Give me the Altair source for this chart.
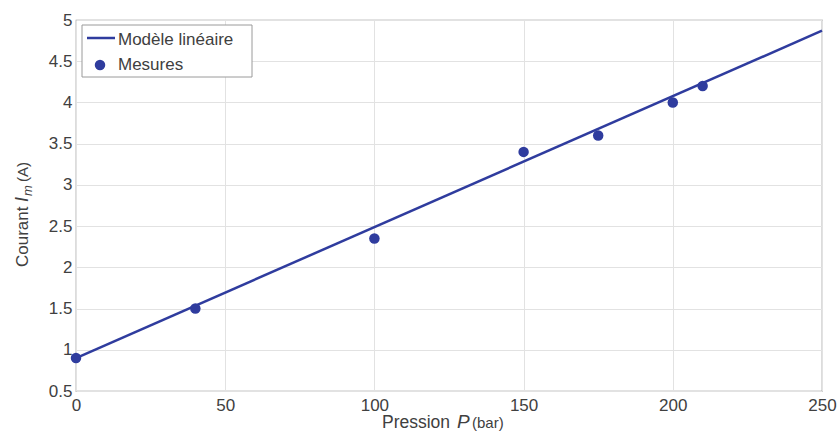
import altair as alt
import pandas as pd

# ---- data ----
pression = [0, 40, 100, 150, 175, 200, 210]
courant = [0.9, 1.5, 2.35, 3.4, 3.6, 4.0, 4.2]
modele_p = [0, 250]
modele_i = [0.9, 4.87]
x_ticks = [0, 50, 100, 150, 200, 250]
y_ticks = [0.5, 1, 1.5, 2, 2.5, 3, 3.5, 4, 4.5, 5]
legend_labels = ["Modèle linéaire", "Mesures"]

BLUE = "#2f3c9e"
FONT = "Liberation Sans"
TXT = "#404040"
W, H = 746, 371

pts = pd.DataFrame({"P": pression, "I": courant})
lin = pd.DataFrame({"P": modele_p, "I": modele_i})
one = pd.DataFrame({"a": [0]})

xs = alt.Scale(domain=[0, 250], nice=False)
ys = alt.Scale(domain=[0.5, 5], nice=False)

xax = alt.Axis(values=x_ticks, title=None, grid=True, ticks=False, domain=False,
               labelFontSize=17, labelPadding=6, labelOverlap=False, labelFlush=False,
               format="d")
yax = alt.Axis(values=y_ticks, title=None, grid=True, ticks=False, domain=False,
               labelFontSize=17, labelPadding=4, labelOverlap=False, labelFlush=False,
               format="~g")

line = alt.Chart(lin).mark_line(color=BLUE, strokeWidth=2.5).encode(
    x=alt.X("P:Q", scale=xs, axis=xax),
    y=alt.Y("I:Q", scale=ys, axis=yax),
)
points = alt.Chart(pts).mark_circle(size=110, color=BLUE, opacity=1).encode(
    x=alt.X("P:Q", scale=xs),
    y=alt.Y("I:Q", scale=ys),
)

# ---- legend (manual, MATLAB style) ----
leg_box = alt.Chart(one).mark_rect(fill="white", stroke="#9a9a9a", strokeWidth=1).encode(
    x=alt.value(6), x2=alt.value(176), y=alt.value(5), y2=alt.value(57)
)
leg_rule = alt.Chart(one).mark_rule(color=BLUE, strokeWidth=2.5).encode(
    x=alt.value(11), x2=alt.value(39), y=alt.value(18)
)
leg_pt = alt.Chart(one).mark_circle(size=110, color=BLUE, opacity=1).encode(
    x=alt.value(24), y=alt.value(45)
)
leg_t1 = alt.Chart(one).mark_text(align="left", baseline="middle", fontSize=17,
                                  font=FONT, color=TXT).encode(
    x=alt.value(42), y=alt.value(20), text=alt.value(legend_labels[0])
)
leg_t2 = alt.Chart(one).mark_text(align="left", baseline="middle", fontSize=17,
                                  font=FONT, color=TXT).encode(
    x=alt.value(42), y=alt.value(45), text=alt.value(legend_labels[1])
)

# ---- axis titles (mixed styles) ----
def txt(s, x, y, size, style="normal", angle=0):
    return alt.Chart(one).mark_text(align="left", baseline="alphabetic", fontSize=size,
                                    font=FONT, color=TXT, fontStyle=style,
                                    angle=angle).encode(
        x=alt.value(x), y=alt.value(y), text=alt.value(s)
    )

xt1 = txt("Pression", 306, 408, 17.5)
xt2 = txt("P", 381, 408, 19, "italic")
xt3 = txt("(bar)", 396, 408, 15)

yt1 = txt("Courant", -48, 247, 17, angle=270)
yt2 = txt("I", -48, 182, 18, "italic", angle=270)
yt3 = txt("m", -44, 176, 13, "italic", angle=270)
yt4 = txt("(A)", -48, 162, 15, angle=270)

chart = alt.layer(
    line, points, leg_box, leg_rule, leg_pt, leg_t1, leg_t2,
    xt1, xt2, xt3, yt1, yt2, yt3, yt4,
).properties(
    width=W, height=H,
    autosize=alt.AutoSizeParams(type="none"),
    padding={"left": 76, "top": 20, "right": 18, "bottom": 43},
    background="white",
).configure_view(
    stroke="#8c8c8c", strokeWidth=1.2
).configure_axis(
    labelFont=FONT, labelColor=TXT, gridColor="#e2e2e2", gridWidth=1
)

chart.save("out.html", embed_options={"renderer": "svg", "actions": False})
